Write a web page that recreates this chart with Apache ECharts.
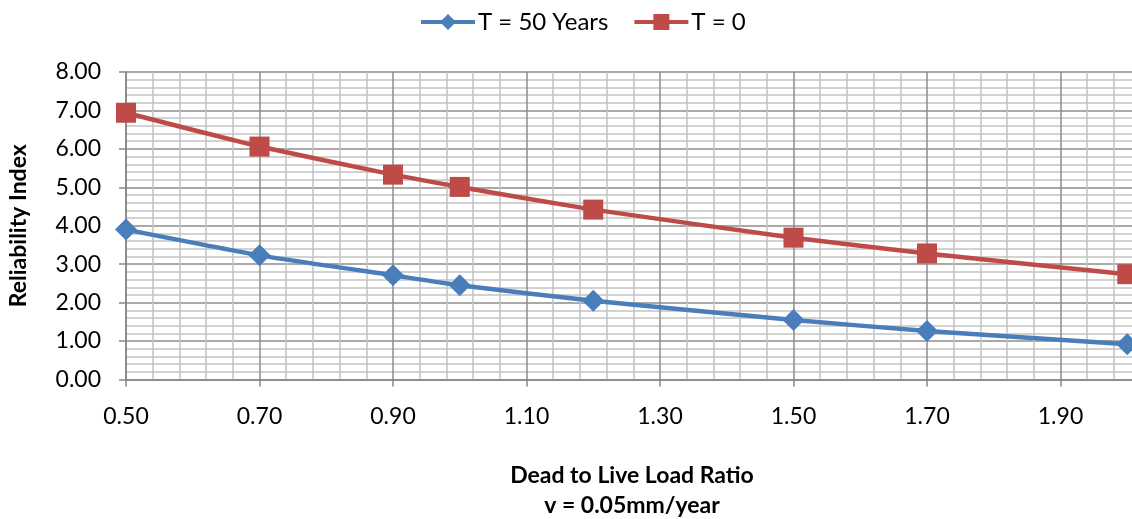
<!DOCTYPE html>
<html>
<head>
<meta charset="utf-8">
<script src="https://cdn.jsdelivr.net/npm/echarts@6/dist/echarts.min.js"></script>
<style>
html,body{margin:0;padding:0;background:#fff;}
#chart{width:1132px;height:519px;}
</style>
</head>
<body>
<div id="chart"></div>
<script>
var ratios = [0.5, 0.7, 0.9, 1.0, 1.2, 1.5, 1.7, 2.0];
var t50 = [3.90, 3.23, 2.71, 2.45, 2.05, 1.55, 1.26, 0.92];
var t0 = [6.94, 6.06, 5.33, 5.01, 4.42, 3.69, 3.28, 2.74];
var seriesNames = ['T = 50 Years', 'T = 0'];
var yTitle = 'Reliability Index';
var xTitle = 'Dead to Live Load Ratio\nv = 0.05mm/year';

function pairs(xs, ys) { return xs.map(function (x, i) { return [x, ys[i]]; }); }

var FONT = 'Lato, "Open Sans", sans-serif';
var chart = echarts.init(document.getElementById('chart'));
chart.setOption({
  animation: false,
  backgroundColor: '#ffffff',
  textStyle: { fontFamily: FONT },
  color: ['#4a7ebb', '#be4b48'],
  title: {
    text: xTitle,
    left: 632,
    top: 461,
    textAlign: 'center',
    padding: 0,
    textStyle: { fontFamily: FONT, fontSize: 23, fontWeight: 'bold', color: '#000', lineHeight: 30 }
  },
  legend: {
    top: 5,
    left: 414,
    itemWidth: 54,
    itemHeight: 20,
    itemGap: 24,
    lineStyle: { width: 4 },
    textStyle: { fontFamily: FONT, fontSize: 24, color: '#000', padding: [0, 0, 0, -2] },
    data: seriesNames
  },
  grid: { left: 126, top: 72, right: -62, bottom: 139.5, containLabel: false, outerBoundsMode: 'none' },
  xAxis: {
    type: 'value',
    min: 0.5,
    max: 2.1,
    interval: 0.2,
    axisLine: { show: true, lineStyle: { color: '#868686', width: 1.5 } },
    axisTick: { show: true, length: 7, lineStyle: { color: '#868686', width: 1.5 } },
    axisLabel: { fontFamily: FONT, fontSize: 23, color: '#000', margin: 26, formatter: function (v) { return v.toFixed(2); } },
    splitLine: { show: true, lineStyle: { color: '#8c8c8c', width: 1.5 } },
    minorTick: { show: false, splitNumber: 5 },
    minorSplitLine: { show: true, lineStyle: { color: '#c4c4c4', width: 1.5 } }
  },
  yAxis: {
    type: 'value',
    min: 0,
    max: 8,
    interval: 1,
    name: yTitle,
    nameLocation: 'middle',
    nameGap: 96,
    nameRotate: 90,
    nameTextStyle: { fontFamily: FONT, fontSize: 23, fontWeight: 'bold', color: '#000' },
    axisLine: { show: true, lineStyle: { color: '#868686', width: 1.5 } },
    axisTick: { show: true, length: 7, lineStyle: { color: '#868686', width: 1.5 } },
    axisLabel: { fontFamily: FONT, fontSize: 23, color: '#000', margin: 25, formatter: function (v) { return v.toFixed(2); } },
    splitLine: { show: true, lineStyle: { color: '#8c8c8c', width: 1.5 } },
    minorTick: { show: false, splitNumber: 5 },
    minorSplitLine: { show: true, lineStyle: { color: '#c4c4c4', width: 1.5 } }
  },
  series: [
    {
      name: seriesNames[0],
      type: 'line',
      data: pairs(ratios, t50),
      symbol: 'diamond',
      symbolSize: 22,
      smooth: 0.15,
      lineStyle: { width: 4.5, color: '#4a7ebb' },
      itemStyle: { color: '#4a7ebb' }
    },
    {
      name: seriesNames[1],
      type: 'line',
      data: pairs(ratios, t0),
      symbol: 'rect',
      symbolSize: 20,
      smooth: 0.15,
      lineStyle: { width: 4.5, color: '#be4b48' },
      itemStyle: { color: '#be4b48' }
    }
  ]
});
</script>
</body>
</html>
